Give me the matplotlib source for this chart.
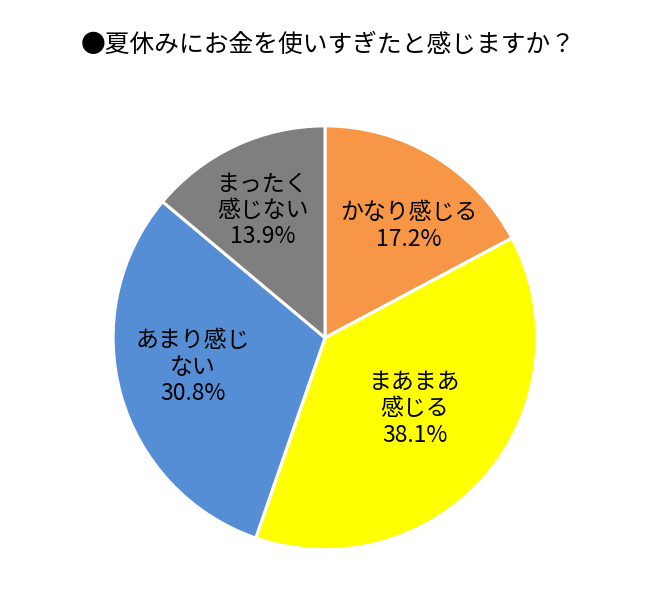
import numpy as np
import matplotlib
matplotlib.use("Agg")
import matplotlib.pyplot as plt

plt.rcParams['font.family'] = ['Noto Sans CJK JP', 'DejaVu Sans']

title = "●夏休みにお金を使いすぎたと感じますか？"
labels = ["かなり感じる", "まあまあ\n感じる", "あまり感じ\nない", "まったく\n感じない"]
values = [17.2, 38.1, 30.8, 13.9]
colors = ["#F79646", "#FFFF00", "#558ED5", "#7F7F7F"]

# label placement (fraction of radius, angle tweak in degrees)
label_r = [0.66, 0.54, 0.64, 0.67]
label_dang = [-6, 2, -3, 1]

fig = plt.figure(figsize=(6.5, 6.13), dpi=100)
ax = fig.add_axes([0.174, 0.103, 0.652, 0.692])

wedges, _ = ax.pie(values, colors=colors, startangle=90, counterclock=False,
                   wedgeprops=dict(edgecolor="white", linewidth=2.2))
ax.set_xlim(-1, 1)
ax.set_ylim(-1, 1)
ax.set_aspect("equal")

for w, lab, v, r, da in zip(wedges, labels, values, label_r, label_dang):
    ang = np.deg2rad((w.theta1 + w.theta2) / 2 + da)
    x, y = r * np.cos(ang), r * np.sin(ang)
    ax.text(x, y, f"{lab}\n{v:.1f}%", ha="center", va="center",
            fontsize=16.5, linespacing=1.2, color="black")

fig.text(0.125, 0.926, title, ha="left", va="center", fontsize=17.8)

plt.savefig("out.png", dpi=100, facecolor="white")
